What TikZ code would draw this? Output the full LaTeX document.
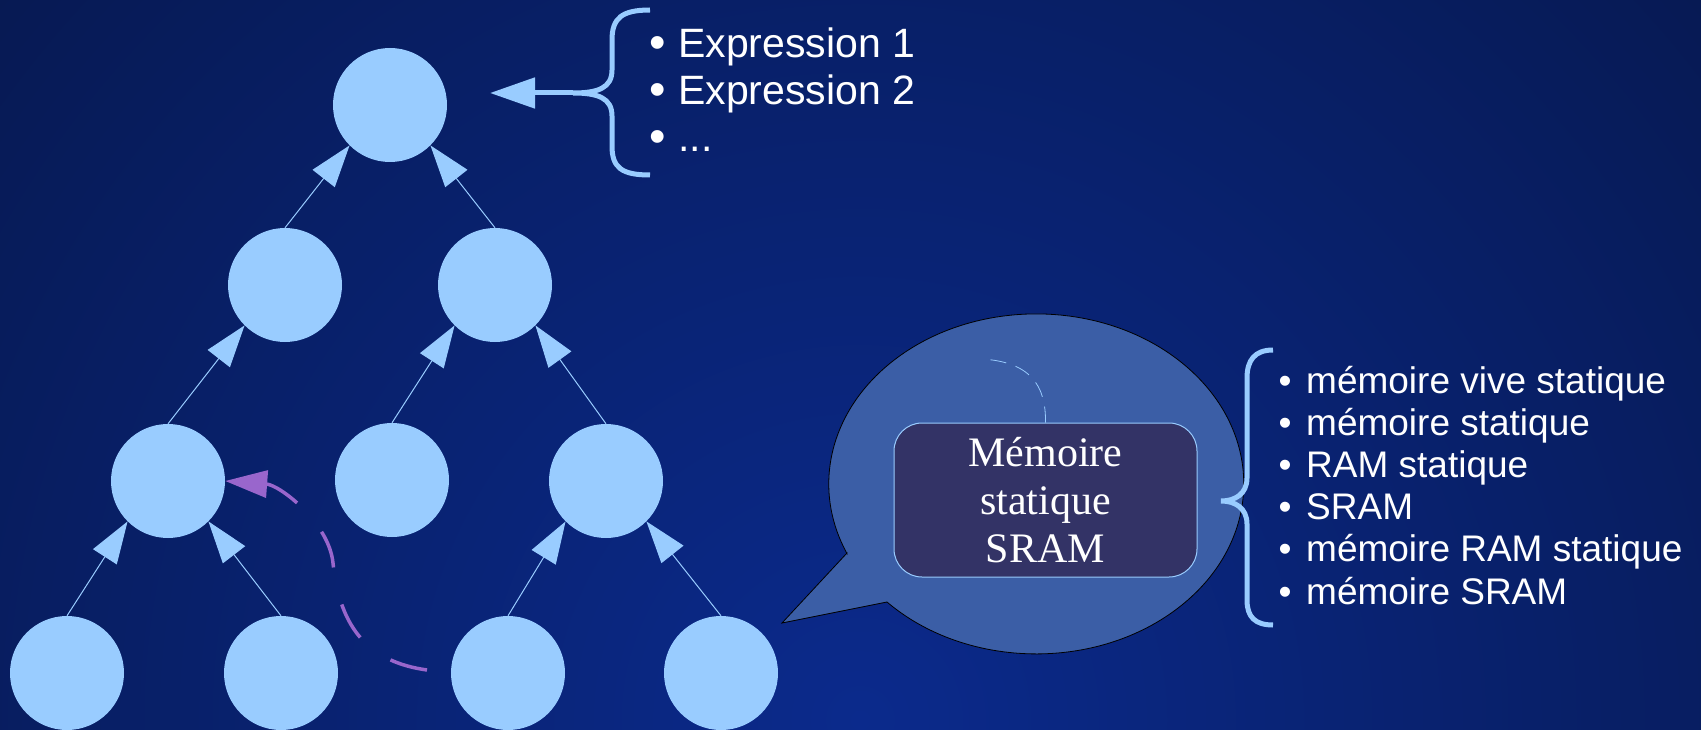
\documentclass[tikz,border=0pt]{standalone}
\usepackage{fontspec}
\setmainfont{Liberation Serif}
\newfontfamily\listfont{Liberation Sans}
\usetikzlibrary{arrows.meta}

\definecolor{nodeblue}{HTML}{99CCFF}
\definecolor{bgdark}{HTML}{051440}
\definecolor{bglight}{HTML}{0B2A8C}
\definecolor{bubblefill}{HTML}{3B5EA6}
\definecolor{boxfill}{HTML}{333366}
\definecolor{linkpurple}{HTML}{9966CC}

\begin{document}
\begin{tikzpicture}[x=1pt, y=-1pt,
  treenode/.style={circle, fill=nodeblue, minimum size=114pt, inner sep=0pt},
  treeedge/.style={draw=nodeblue, line width=1pt, -{Triangle[length=42pt,width=28pt]}},
  bracestroke/.style={draw=nodeblue, line width=5pt},
  bracearrow/.style={draw=nodeblue, line width=5pt, -{Triangle[length=45pt,width=30pt]}},
  topitem/.style={font=\listfont\fontsize{41}{47}\selectfont, text=white, inner sep=0pt, anchor=base west},
  topdot/.style={font=\listfont\fontsize{47}{47}\selectfont, text=white, inner sep=0pt, anchor=base},
  sideitem/.style={font=\listfont\fontsize{37}{42}\selectfont, text=white, inner sep=0pt, anchor=base west},
  sidedot/.style={font=\listfont\fontsize{37}{42}\selectfont, text=white, inner sep=0pt, anchor=base},
  termbox/.style={draw=nodeblue, line width=1pt, fill=boxfill, rounded corners=28pt,
    minimum width=303pt, minimum height=154pt, text=white, align=center,
    font=\fontsize{42}{48}\selectfont},
  reuse/.style={draw=linkpurple, line width=3.5pt, dash pattern=on 38pt off 38pt,
    -{Triangle[length=42pt,width=27pt]}}
]
\useasboundingbox (0,0) rectangle (1701,730);

% background
\fill[bgdark] (0,0) rectangle (1701,730);
\begin{scope}
  \clip (0,0) rectangle (1701,730);
  \shade[inner color=bglight, outer color=bgdark] (860,720) circle (1500);
\end{scope}

% tree
\node[treenode] (root) at (390,105) {};
\node[treenode] (a) at (285,285) {};
\node[treenode] (b) at (495,285) {};
\node[treenode] (c) at (168,481) {};
\node[treenode] (d) at (392,480) {};
\node[treenode] (e) at (606,481) {};
\node[treenode] (f) at (67,673) {};
\node[treenode] (g) at (281,673) {};
\node[treenode] (h) at (508,673) {};
\node[treenode] (i) at (721,673) {};

\draw[treeedge] (a.north) -- (root.south west);
\draw[treeedge] (b.north) -- (root.south east);
\draw[treeedge] (c.north) -- (a.south west);
\draw[treeedge] (d.north) -- (b.south west);
\draw[treeedge] (e.north) -- (b.south east);
\draw[treeedge] (f.north) -- (c.south west);
\draw[treeedge] (g.north) -- (c.south east);
\draw[treeedge] (h.north) -- (e.south west);
\draw[treeedge] (i.north) -- (e.south east);

% dashed reuse link
\coordinate (reusestart) at (427,670);
\draw[reuse] (reusestart) .. controls (370,662) and (340,630) .. (333,563)
  .. controls (329,523) and (280,485) .. (c.east);

% top brace and its arrow
\coordinate (toptip) at (573,93);
\coordinate (toptarget) at (490,93);
\draw[bracestroke] (650,10) .. controls (622,10) and (612,18) .. (612,40) -- (612,70)
  .. controls (612,88) and (598,93) .. (toptip)
  .. controls (598,93) and (612,98) .. (612,116) -- (612,146)
  .. controls (612,168) and (622,175) .. (650,175);
\draw[bracearrow] (toptip) -- (toptarget);

\node[topdot] (td1) at (658,59) {\textbullet};
\node[topitem] (ti1) at (678,58) {Expression 1};
\node[topdot] (td2) at (658,106) {\textbullet};
\node[topitem] (ti2) at (678,105) {Expression 2};
\node[topdot] (td3) at (658,153) {\textbullet};
\node[topitem] (ti3) at (678,152) {...};

% speech bubble
\path[draw=black, line width=0.8pt, fill=bubblefill]
  (847,553) -- (782,623) -- (887,602)
  arc[start angle=136, end angle=-204.2, x radius=207.5, y radius=170] -- cycle;

\node[termbox] (term) at (1045.5,500) {Mémoire\\statique\\SRAM};
\coordinate (trailend) at (982,359);
\draw[nodeblue, line width=0.8pt, dash pattern=on 16pt off 10pt]
  (term.north) .. controls (1046,385) and (1030,362) .. (trailend);

% right brace
\coordinate (sidetip) at (1221,501);
\draw[bracestroke] (1273,350) .. controls (1255,350) and (1247,360) .. (1247,378) -- (1247,478)
  .. controls (1247,494) and (1235,501) .. (sidetip)
  .. controls (1235,501) and (1247,508) .. (1247,524) -- (1247,600)
  .. controls (1247,617) and (1255,625) .. (1273,625);

\node[sidedot] (sd1) at (1285,393) {\textbullet};
\node[sideitem] (si1) at (1306,393) {mémoire vive statique};
\node[sidedot] (sd2) at (1285,435.2) {\textbullet};
\node[sideitem] (si2) at (1306,435.2) {mémoire statique};
\node[sidedot] (sd3) at (1285,477.4) {\textbullet};
\node[sideitem] (si3) at (1306,477.4) {RAM statique};
\node[sidedot] (sd4) at (1285,519.6) {\textbullet};
\node[sideitem] (si4) at (1306,519.6) {SRAM};
\node[sidedot] (sd5) at (1285,561.8) {\textbullet};
\node[sideitem] (si5) at (1306,561.8) {mémoire RAM statique};
\node[sidedot] (sd6) at (1285,604) {\textbullet};
\node[sideitem] (si6) at (1306,604) {mémoire SRAM};
\end{tikzpicture}
\end{document}
